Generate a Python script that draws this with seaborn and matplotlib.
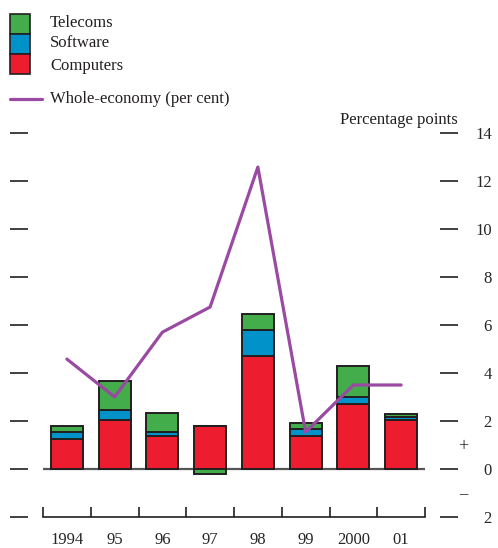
import matplotlib
matplotlib.use('Agg')
import matplotlib.pyplot as plt
from matplotlib.patches import Rectangle
from matplotlib.lines import Line2D
from matplotlib import transforms
import numpy as np
import pandas as pd
import seaborn as sns

years = ['1994', '95', '96', '97', '98', '99', '2000', '01']
computers = [1.25, 2.04, 1.38, 1.79, 4.71, 1.38, 2.71, 2.04]
software = [0.29, 0.42, 0.17, 0.0, 1.08, 0.29, 0.29, 0.13]
telecoms = [0.25, 1.21, 0.79, -0.2, 0.67, 0.25, 1.29, 0.12]
whole_economy = [4.58, 3.0, 5.7, 6.75, 12.58, 1.54, 3.5, 3.5]
y_ticks = [14, 12, 10, 8, 6, 4, 2, 0, -2]
y_labels = ['14', '12', '10', '8', '6', '4', '2', '0', '2']

RED = '#ED1C2E'
BLUE = '#0092C8'
GREEN = '#42AD4A'
PURPLE = '#9A4AA2'
EDGE = '#231F20'
W, H = 498, 548
PT = 0.72  # points per pixel at dpi 100

sns.set_theme(style='white')
plt.rcParams['font.family'] = ['Liberation Serif', 'DejaVu Serif']
plt.rcParams['text.color'] = EDGE

fig = plt.figure(figsize=(W / 100, H / 100), dpi=100)
ax = fig.add_axes([43 / W, 31 / H, 382 / W, 384 / H])

x = np.arange(len(years))
pos_base = np.zeros(len(years))
neg_base = np.zeros(len(years))
for vals, col in [(computers, RED), (software, BLUE), (telecoms, GREEN)]:
    vals = np.asarray(vals, dtype=float)
    bottom = np.where(vals >= 0, pos_base, neg_base)
    ax.bar(x, vals, bottom=bottom, width=0.67, color=col,
           edgecolor=EDGE, linewidth=1.4, zorder=2)
    pos_base += np.clip(vals, 0, None)
    neg_base += np.clip(vals, None, 0)

ax.axhline(0, color='#555555', lw=1.6, zorder=1)

line_df = pd.DataFrame({'pos': x, 'value': whole_economy})
sns.lineplot(data=line_df, x='pos', y='value', color=PURPLE, lw=2.3,
             ax=ax, zorder=3)

ax.set_xlim(-0.5, len(years) - 0.5)
ax.set_ylim(-2, 14)
ax.set_xlabel('')
ax.set_ylabel('')

ax.spines['top'].set_visible(False)
for side in ['left', 'right']:
    ax.spines[side].set_position(('outward', 15 * PT))
    ax.spines[side].set_visible(False)
ax.spines['bottom'].set_color(EDGE)
ax.spines['bottom'].set_linewidth(1.2)

ax.set_xticks(x)
ax.set_xticklabels(years)
ax.set_xticks(np.arange(-0.5, len(years)), minor=True)
ax.tick_params(axis='x', which='major', length=0, pad=11, labelsize=12)
ax.tick_params(axis='x', which='minor', direction='in', length=10 * PT,
               width=1.2, color=EDGE, bottom=True)

ax.set_yticks(y_ticks)
ax.set_yticklabels(y_labels)
ax.tick_params(axis='y', which='major', left=True, right=True,
               labelleft=False, labelright=True, direction='out',
               length=18 * PT, width=1.2, color=EDGE, pad=34 * PT,
               labelsize=12)
for t in ax.yaxis.get_major_ticks():
    t.label2.set_horizontalalignment('right')

side_tr = transforms.blended_transform_factory(ax.transAxes, ax.transData)
ax.text(1.1, 0.92, '+', transform=side_tr, ha='center', va='center', fontsize=13)
ax.text(1.1, -1.04, '–', transform=side_tr, ha='center', va='center', fontsize=12)
ax.text(1.086, 14.55, 'Percentage points', transform=side_tr,
        ha='right', va='center', fontsize=12)

# legend drawn in figure pixels
def fx(px):
    return px / W


def fy(py):
    return 1 - py / H


legend_items = [('Telecoms', GREEN, 14, 23), ('Software', BLUE, 34, 43),
                ('Computers', RED, 54, 66)]
for label, col, top, ty in legend_items:
    fig.add_artist(Rectangle((fx(10), fy(top + 20)), 20 / W, 20 / H,
                             transform=fig.transFigure, facecolor=col,
                             edgecolor=EDGE, linewidth=1.2))
    fig.text(fx(50), fy(ty), label, ha='left', va='center', fontsize=12)

fig.add_artist(Line2D([fx(10), fx(42)], [fy(99), fy(99)],
                      transform=fig.transFigure, color=PURPLE, lw=2.3))
fig.text(fx(50), fy(99), 'Whole-economy (per cent)', ha='left',
         va='center', fontsize=12)

fig.savefig('out.png', dpi=100)
